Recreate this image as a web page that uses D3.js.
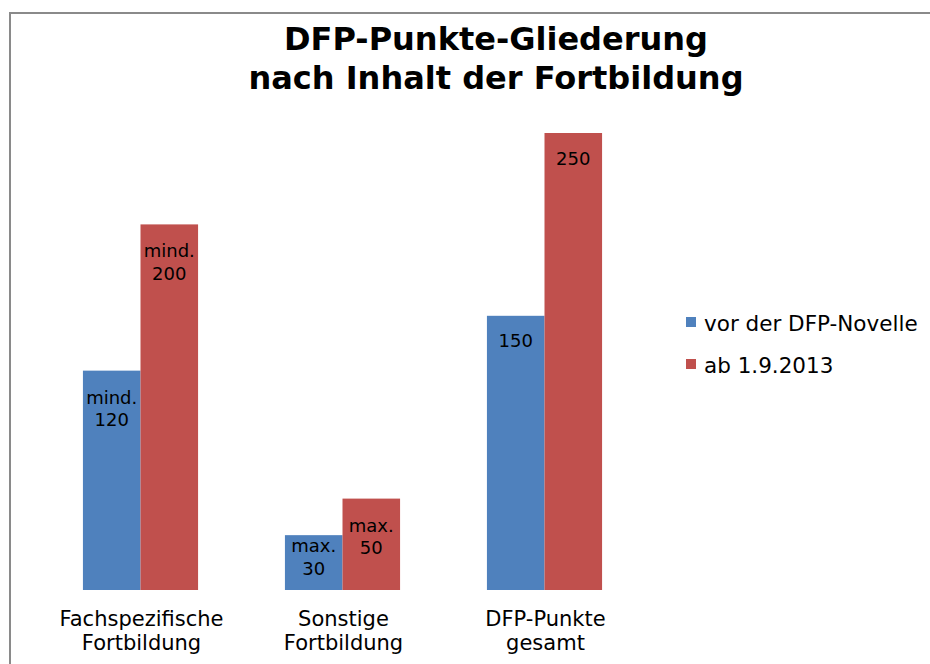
<!DOCTYPE html>
<html>
<head>
<meta charset="utf-8">
<script src="https://cdn.jsdelivr.net/npm/d3@7"></script>
<style>
  body { margin: 0; background: #fff; }
  svg { display: block; font-family: 'DejaVu Sans', Verdana, sans-serif; }
</style>
</head>
<body>
<div id="chart"></div>
<script>
const categories = [['Fachspezifische', 'Fortbildung'], ['Sonstige', 'Fortbildung'], ['DFP-Punkte', 'gesamt']];
const seriesNames = ['vor der DFP-Novelle', 'ab 1.9.2013'];
const valuesBefore = [120, 30, 150];
const valuesAfter = [200, 50, 250];
const labelsBefore = [['mind.', '120'], ['max.', '30'], ['150']];
const labelsAfter = [['mind.', '200'], ['max.', '50'], ['250']];
const titleLines = ['DFP-Punkte-Gliederung', 'nach Inhalt der Fortbildung'];

const width = 930;
const height = 664;
const colors = ['#4f81bd', '#c0504d'];
const baseY = 590;

const svg = d3.select('#chart').append('svg')
  .attr('width', width)
  .attr('height', height);

// chart frame (right and bottom edges run off the picture)
svg.append('rect')
  .attr('x', 10).attr('y', 13)
  .attr('width', 1000).attr('height', 1000)
  .attr('fill', 'none')
  .attr('stroke', '#8a8a8a')
  .attr('stroke-width', 2);

// title
svg.append('text')
  .attr('text-anchor', 'middle')
  .attr('font-size', 32)
  .attr('font-weight', 'bold')
  .selectAll('tspan')
  .data(titleLines)
  .enter()
  .append('tspan')
  .attr('x', 496)
  .attr('y', (d, i) => 50 + i * 38.5)
  .text((d) => d);

const data = categories.map((c, i) => ({
  cat: i,
  lines: c,
  bars: [
    { s: 0, v: valuesBefore[i], label: labelsBefore[i] },
    { s: 1, v: valuesAfter[i], label: labelsAfter[i] },
  ],
}));

const x0 = d3.scaleBand()
  .domain(d3.range(categories.length))
  .range([39.5, 645.5])
  .paddingInner(0.43)
  .paddingOuter(0.215);

const x1 = d3.scaleBand()
  .domain([0, 1])
  .range([0, x0.bandwidth()]);

const y = d3.scaleLinear()
  .domain([0, 250])
  .range([baseY, 133]);

const groups = svg.selectAll('.grp')
  .data(data)
  .enter()
  .append('g')
  .attr('class', 'grp')
  .attr('transform', (d) => `translate(${x0(d.cat)},0)`);

groups.selectAll('rect')
  .data((d) => d.bars)
  .enter()
  .append('rect')
  .attr('x', (d) => x1(d.s))
  .attr('y', (d) => y(d.v))
  .attr('width', x1.bandwidth())
  .attr('height', (d) => baseY - y(d.v))
  .attr('fill', (d) => colors[d.s]);

// data labels, inside end; pushed down if the bar is too short
groups.selectAll('.lbl')
  .data((d) => d.bars)
  .enter()
  .append('text')
  .attr('class', 'lbl')
  .attr('text-anchor', 'middle')
  .attr('font-size', 18)
  .attr('fill', '#000')
  .each(function (d) {
    const n = d.label.length;
    let y1 = y(d.v) + (n === 1 ? 31.5 : 33);
    y1 = Math.min(y1, baseY - 38);
    d3.select(this).selectAll('tspan')
      .data(d.label)
      .enter()
      .append('tspan')
      .attr('x', x1(d.s) + x1.bandwidth() / 2)
      .attr('y', (t, i) => y1 + i * 22.5)
      .text((t) => t);
  });

// category labels
groups.append('text')
  .attr('text-anchor', 'middle')
  .attr('font-size', 21)
  .attr('fill', '#000')
  .selectAll('tspan')
  .data((d) => d.lines)
  .enter()
  .append('tspan')
  .attr('x', x0.bandwidth() / 2 + 1)
  .attr('y', (t, i) => 626 + i * 24)
  .text((t) => t);

// legend
const legend = svg.selectAll('.leg')
  .data(seriesNames)
  .enter()
  .append('g')
  .attr('class', 'leg')
  .attr('transform', (d, i) => `translate(686,${317 + i * 42})`);

legend.append('rect')
  .attr('width', 10)
  .attr('height', 10)
  .attr('fill', (d, i) => colors[i]);

legend.append('text')
  .attr('x', 18)
  .attr('y', 14)
  .attr('font-size', 21.5)
  .attr('fill', '#000')
  .text((d) => d);
</script>
</body>
</html>
